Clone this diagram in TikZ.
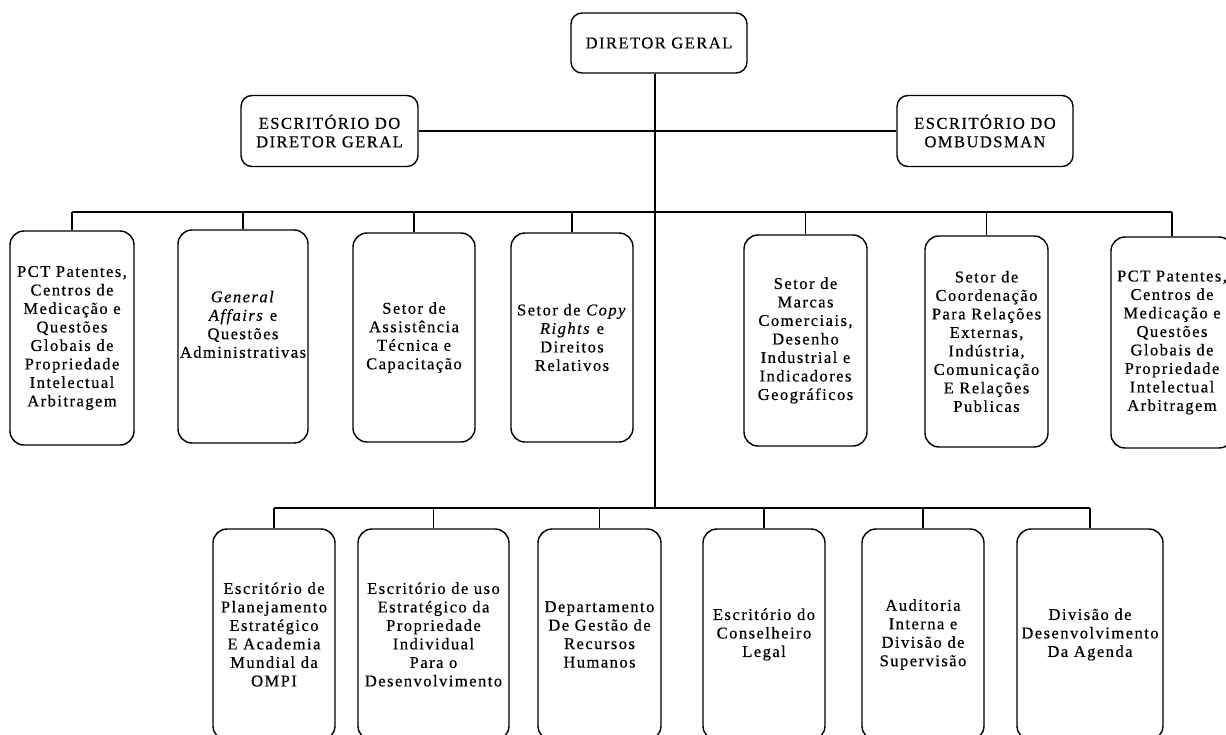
\documentclass[tikz,border=0pt]{standalone}
\usepackage{fontspec}
\setmainfont{Liberation Serif}[LetterSpace=9, FakeBold=0.5]
\begin{document}
\begin{tikzpicture}[x=1pt,y=-1pt,
  box/.style={draw=black, line width=1.4pt, rounded corners=14pt, inner sep=0pt, align=center,
    font={\fontsize{16.5}{18.5}\selectfont}},
  smallbox/.style={box, rounded corners=11pt},
  link/.style={draw=black, line width=1.4pt}]
\useasboundingbox (0,0) rectangle (1226,735);
\clip (0,0) rectangle (1226,735);
\fill[white] (0,0) rectangle (1226,735);

% top
\node[smallbox, minimum width=176pt, minimum height=60pt] (dg) at (659,43) {DIRETOR GERAL};
\node[smallbox, minimum width=177pt, minimum height=71pt] (edg) at (329.5,131) {ESCRITÓRIO DO\\DIRETOR GERAL};
\node[smallbox, minimum width=176pt, minimum height=71pt] (eomb) at (985,131) {ESCRITÓRIO DO\\OMBUDSMAN};

\coordinate (b1) at (655,212);
\coordinate (b2) at (655,508);

% first row
\node[box, minimum width=124pt, minimum height=214pt] (r1) at (72,338) {PCT Patentes,\\Centros de\\Medicação e\\Questões\\Globais de\\Propriedade\\Intelectual\\Arbitragem};
\node[box, minimum width=130pt, minimum height=213pt] (r2) at (243,336.5) {\textit{General}\\\textit{Affairs} e\\Questões\\Administrativas\\[6pt]};
\node[box, minimum width=122pt, minimum height=209pt] (r3) at (414,337.5) {Setor de\\Assistência\\Técnica e\\Capacitação};
\node[box, minimum width=122pt, minimum height=209pt] (r4) at (572,337.5) {Setor de \textit{Copy}\\\textit{Rights} e\\Direitos\\Relativos};
\node[box, minimum width=123pt, minimum height=211pt] (r5) at (805.5,340.5) {Setor de\\Marcas\\Comerciais,\\Desenho\\Industrial e\\Indicadores\\Geográficos};
\node[box, minimum width=123pt, minimum height=211pt] (r6) at (986.5,341.5) {Setor de\\Coordenação\\Para Relações\\Externas,\\Indústria,\\Comunicação\\E Relações\\Publicas};
\node[box, minimum width=122pt, minimum height=211pt] (r7) at (1172,342.5) {PCT Patentes,\\Centros de\\Medicação e\\Questões\\Globais de\\Propriedade\\Intelectual\\Arbitragem};

% second row
\node[box, minimum width=122pt, minimum height=211pt] (s1) at (274,634.5) {Escritório de\\Planejamento\\Estratégico\\E Academia\\Mundial da\\OMPI};
\node[box, minimum width=151pt, minimum height=211pt] (s2) at (433.5,634.5) {Escritório de uso\\Estratégico da\\Propriedade\\Individual\\Para o\\Desenvolvimento};
\node[box, minimum width=123pt, minimum height=211pt] (s3) at (599.5,634.5) {Departamento\\De Gestão de\\Recursos\\Humanos};
\node[box, minimum width=122pt, minimum height=211pt] (s4) at (764,634.5) {Escritório do\\Conselheiro\\Legal};
\node[box, minimum width=122pt, minimum height=211pt] (s5) at (923,634.5) {Auditoria\\Interna e\\Divisão de\\Supervisão};
\node[box, minimum width=146pt, minimum height=211pt] (s6) at (1090,634.5) {Divisão de\\Desenvolvimento\\Da Agenda};

% connectors
\draw[link] (b1 |- dg.south) -- (b2);
\draw[link] (edg.east) -- (eomb.west);
\draw[link] (r1.north |- b1) -- (r7.north |- b1);
\foreach \n in {r1,r2,r3,r4,r5,r6,r7} \draw[link] (\n.north) -- (\n.north |- b1);
\draw[link] (s1.north |- b2) -- (s6.north |- b2);
\foreach \n in {s1,s2,s3,s4,s5,s6} \draw[link] (\n.north) -- (\n.north |- b2);
\end{tikzpicture}
\end{document}
